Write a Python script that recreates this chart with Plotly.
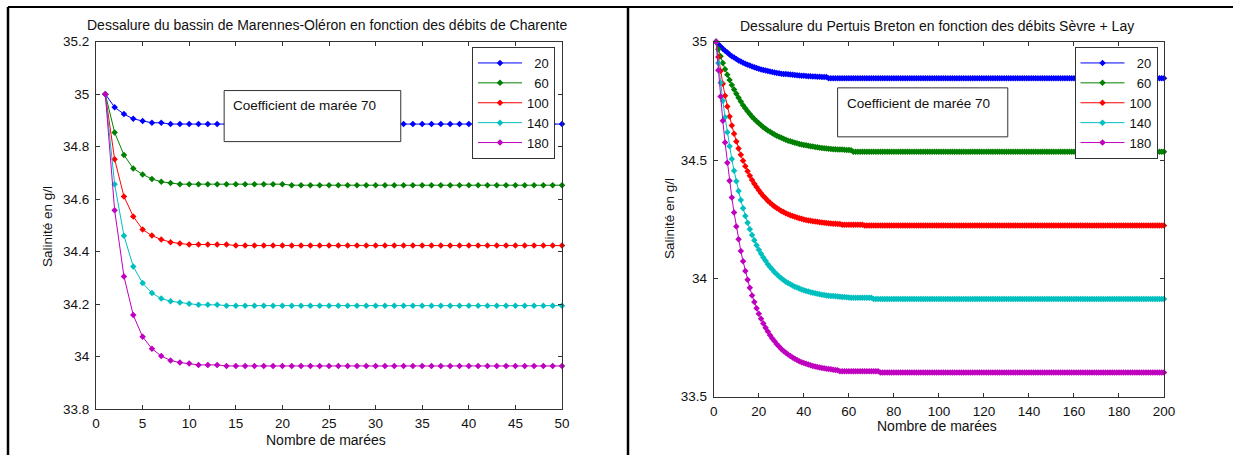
import plotly.graph_objects as go

# ---------------- data ----------------
debits = ["20", "60", "100", "140", "180"]
legend_labels = ["\u200720", "\u200760", "100", "140", "180"]
colors = ["#0000FF", "#008000", "#FF0000", "#00BFBF", "#BF00BF"]

# Left panel: Marennes-Oléron (50 marées)
tides_mo = list(range(1, 51))
mo_20 = [35.000, 34.950, 34.924, 34.906, 34.898, 34.891, 34.891] + [34.886] * 43
mo_60 = [35.000, 34.854, 34.768, 34.717, 34.694, 34.677, 34.666, 34.661] + [34.657] * 12 + [34.653] * 30
mo_100 = [35.000, 34.752, 34.610, 34.534, 34.484, 34.461, 34.446, 34.436, 34.431] + [34.427] * 5 + [34.423] * 36
mo_140 = [35.000, 34.657, 34.460, 34.343, 34.280, 34.242, 34.221, 34.211, 34.206, 34.201] + [34.197] * 3 + [34.194] * 37
mo_180 = [35.000, 34.558, 34.305, 34.158, 34.075, 34.030, 34.002, 33.985, 33.977, 33.973] + [33.968] * 3 + [33.964] * 37

# Right panel: Pertuis Breton (200 marées)
tides_pb = list(range(1, 201))
pb_20 = [35.000, 34.989, 34.980, 34.970, 34.962, 34.954, 34.946, 34.939, 34.933, 34.927,
         34.921, 34.916, 34.911, 34.907, 34.903, 34.899, 34.895, 34.892, 34.889, 34.886,
         34.883, 34.880, 34.878, 34.876, 34.874, 34.872, 34.870, 34.868, 34.867, 34.865,
         34.864, 34.863, 34.862, 34.861, 34.860, 34.859, 34.858, 34.857, 34.856, 34.856,
         34.855, 34.854, 34.854, 34.853, 34.853, 34.852, 34.852, 34.851, 34.851, 34.851] + [34.846] * 150
pb_60 = [35.000, 34.968, 34.938, 34.910, 34.884, 34.860, 34.838, 34.817, 34.798, 34.780,
         34.763, 34.747, 34.732, 34.719, 34.706, 34.694, 34.683, 34.673, 34.664, 34.655,
         34.647, 34.639, 34.632, 34.625, 34.619, 34.613, 34.608, 34.603, 34.598, 34.594,
         34.590, 34.586, 34.582, 34.579, 34.576, 34.573, 34.571, 34.568, 34.566, 34.564,
         34.562, 34.560, 34.558, 34.557, 34.555, 34.554, 34.552, 34.551, 34.550, 34.549,
         34.548, 34.547, 34.546, 34.546, 34.545, 34.544, 34.544, 34.543, 34.542, 34.542,
         34.541] + [34.535] * 139
pb_100 = [35.000, 34.935, 34.876, 34.822, 34.772, 34.726, 34.684, 34.646, 34.611, 34.578,
          34.549, 34.522, 34.497, 34.474, 34.453, 34.434, 34.416, 34.400, 34.386, 34.372,
          34.360, 34.348, 34.338, 34.328, 34.319, 34.311, 34.304, 34.297, 34.291, 34.285,
          34.280, 34.275, 34.271, 34.267, 34.263, 34.260, 34.257, 34.254, 34.252, 34.249,
          34.247, 34.245, 34.243, 34.241, 34.240, 34.239, 34.237, 34.236, 34.235, 34.234,
          34.233, 34.232, 34.231, 34.231, 34.230, 34.230] + [34.227] * 10 + [34.223] * 134
pb_140 = [35.000, 34.910, 34.827, 34.750, 34.681, 34.617, 34.558, 34.504, 34.455, 34.410,
          34.369, 34.331, 34.296, 34.264, 34.235, 34.208, 34.183, 34.161, 34.140, 34.121,
          34.104, 34.088, 34.074, 34.060, 34.048, 34.037, 34.026, 34.017, 34.008, 34.000,
          33.993, 33.986, 33.980, 33.975, 33.970, 33.965, 33.961, 33.957, 33.953, 33.950,
          33.947, 33.944, 33.941, 33.939, 33.937, 33.935, 33.933, 33.931, 33.930, 33.928,
          33.927, 33.926, 33.925, 33.924, 33.923, 33.922, 33.921, 33.921, 33.920, 33.919] + [33.918] * 10 + [33.913] * 130
pb_180 = [35.000, 34.879, 34.768, 34.666, 34.574, 34.489, 34.412, 34.342, 34.278, 34.219,
          34.165, 34.116, 34.072, 34.031, 33.994, 33.960, 33.928, 33.900, 33.874, 33.851,
          33.829, 33.809, 33.791, 33.775, 33.760, 33.746, 33.734, 33.722, 33.712, 33.702,
          33.693, 33.686, 33.678, 33.672, 33.666, 33.660, 33.655, 33.650, 33.646, 33.642,
          33.639, 33.636, 33.633, 33.630, 33.628, 33.625, 33.623, 33.621, 33.620, 33.618,
          33.617, 33.616, 33.614, 33.613, 33.612] + [33.608] * 18 + [33.602] * 127

mo_series = [mo_20, mo_60, mo_100, mo_140, mo_180]
pb_series = [pb_20, pb_60, pb_100, pb_140, pb_180]

mo_yticks = [33.8, 34.0, 34.2, 34.4, 34.6, 34.8, 35.0, 35.2]
mo_yticktext = ["33.8", "34", "34.2", "34.4", "34.6", "34.8", "35", "35.2"]
pb_yticks = [33.5, 34.0, 34.5, 35.0]
pb_yticktext = ["33.5", "34", "34.5", "35"]

title_mo = "Dessalure du bassin de Marennes-Oléron en fonction des débits de Charente"
title_pb = "Dessalure du Pertuis Breton en fonction des débits Sèvre + Lay"
xlabel = "Nombre de marées"
ylabel = "Salinité en g/l"
note = "Coefficient de marée 70"

# ---------------- figure ----------------
W, H = 1233, 455
FONT = "Liberation Sans, Arial, sans-serif"
TXT = "#111111"
fig = go.Figure()

for i, (name, lab, c) in enumerate(zip(debits, legend_labels, colors)):
    fig.add_trace(go.Scatter(
        x=tides_mo, y=mo_series[i], mode="lines+markers", name=lab,
        line=dict(color=c, width=1), marker=dict(symbol="diamond", size=5, color=c),
        xaxis="x", yaxis="y", legend="legend", legendgroup="mo" + name,
        cliponaxis=False))
for i, (name, lab, c) in enumerate(zip(debits, legend_labels, colors)):
    fig.add_trace(go.Scatter(
        x=tides_pb, y=pb_series[i], mode="lines+markers", name=lab,
        line=dict(color=c, width=1), marker=dict(symbol="diamond", size=5, color=c),
        xaxis="x2", yaxis="y2", legend="legend2", legendgroup="pb" + name,
        cliponaxis=False))

axis_common = dict(showline=True, linecolor="#333333", linewidth=1, mirror="ticks",
                   ticks="inside", ticklen=4, tickcolor="#333333", showgrid=False,
                   zeroline=False, automargin=False,
                   tickfont=dict(family=FONT, size=13.5, color=TXT))

dom_mo_x = [96 / W, 562 / W]
dom_mo_y = [1 - 409 / H, 1 - 41.7 / H]
dom_pb_x = [713.8 / W, 1164 / W]
dom_pb_y = [1 - 396.7 / H, 1 - 41.7 / H]

legend_common = dict(xanchor="right", yanchor="top", bordercolor="#333333", borderwidth=1,
                     bgcolor="white", font=dict(family=FONT, size=13, color=TXT),
                     traceorder="grouped", tracegroupgap=0, itemwidth=44)

fig.update_layout(
    width=W, height=H, margin=dict(l=0, r=0, t=0, b=0, autoexpand=False),
    paper_bgcolor="white", plot_bgcolor="white",
    font=dict(family=FONT, size=13, color=TXT),
    xaxis=dict(domain=dom_mo_x, anchor="y", range=[0, 50], tickvals=list(range(0, 51, 5)),
               ticklabelstandoff=2, **axis_common),
    yaxis=dict(domain=dom_mo_y, anchor="x", range=[33.8, 35.2], tickvals=mo_yticks,
               ticktext=mo_yticktext, ticklabelstandoff=3, **axis_common),
    xaxis2=dict(domain=dom_pb_x, anchor="y2", range=[0, 200], tickvals=list(range(0, 201, 20)),
                ticklabelstandoff=2, **axis_common),
    yaxis2=dict(domain=dom_pb_y, anchor="x2", range=[33.5, 35], tickvals=pb_yticks,
                ticktext=pb_yticktext, ticklabelstandoff=3, **axis_common),
    legend=dict(x=555 / W, y=1 - 47 / H, **legend_common),
    legend2=dict(x=1157.5 / W, y=1 - 47 / H, **legend_common),
    showlegend=True,
)

annots = [
    dict(text=title_mo, x=327 / W, y=1 - 25 / H, size=14),
    dict(text=title_pb, x=937 / W, y=1 - 26 / H, size=14),
    dict(text=xlabel, x=326.4 / W, y=1 - 440 / H, size=14),
    dict(text=xlabel, x=936.7 / W, y=1 - 426 / H, size=14),
    dict(text=ylabel, x=47 / W, y=1 - 227 / H, size=13.5, textangle=-90),
    dict(text=ylabel, x=669 / W, y=1 - 219 / H, size=13.5, textangle=-90),
]
for a in annots:
    size = a.pop("size")
    fig.add_annotation(xref="paper", yref="paper", showarrow=False,
                       xanchor="center", yanchor="middle",
                       font=dict(family=FONT, size=size, color=TXT), **a)

# "Coefficient de marée 70" boxes
for xd, yd, bx, by in [("x domain", "y domain", (0.275, 0.654), (0.728, 0.867)),
                       ("x2 domain", "y2 domain", (0.275, 0.653), (0.732, 0.870))]:
    fig.add_shape(type="rect", xref=xd, yref=yd, x0=bx[0], x1=bx[1], y0=by[0], y1=by[1],
                  line=dict(color="#333333", width=1), fillcolor="white", layer="above")
fig.add_annotation(xref="x domain", yref="y domain", x=0.290, y=0.825, text=note,
                   showarrow=False, xanchor="left", yanchor="middle",
                   font=dict(family=FONT, size=13.5, color=TXT))
fig.add_annotation(xref="x2 domain", yref="y2 domain", x=0.291, y=0.827, text=note,
                   showarrow=False, xanchor="left", yanchor="middle",
                   font=dict(family=FONT, size=13.5, color=TXT))

# table-like panel borders
top = 1 - 7 / H
fig.add_shape(type="line", xref="paper", yref="paper", x0=8 / W, x1=1, y0=top, y1=top,
              line=dict(color="black", width=2))
for xv in [8 / W, 628 / W]:
    fig.add_shape(type="line", xref="paper", yref="paper", x0=xv, x1=xv, y0=0, y1=top,
                  line=dict(color="black", width=2.5))

fig.write_html("out.html", config={"displayModeBar": False},
               post_script="document.body.style.margin='0';")
